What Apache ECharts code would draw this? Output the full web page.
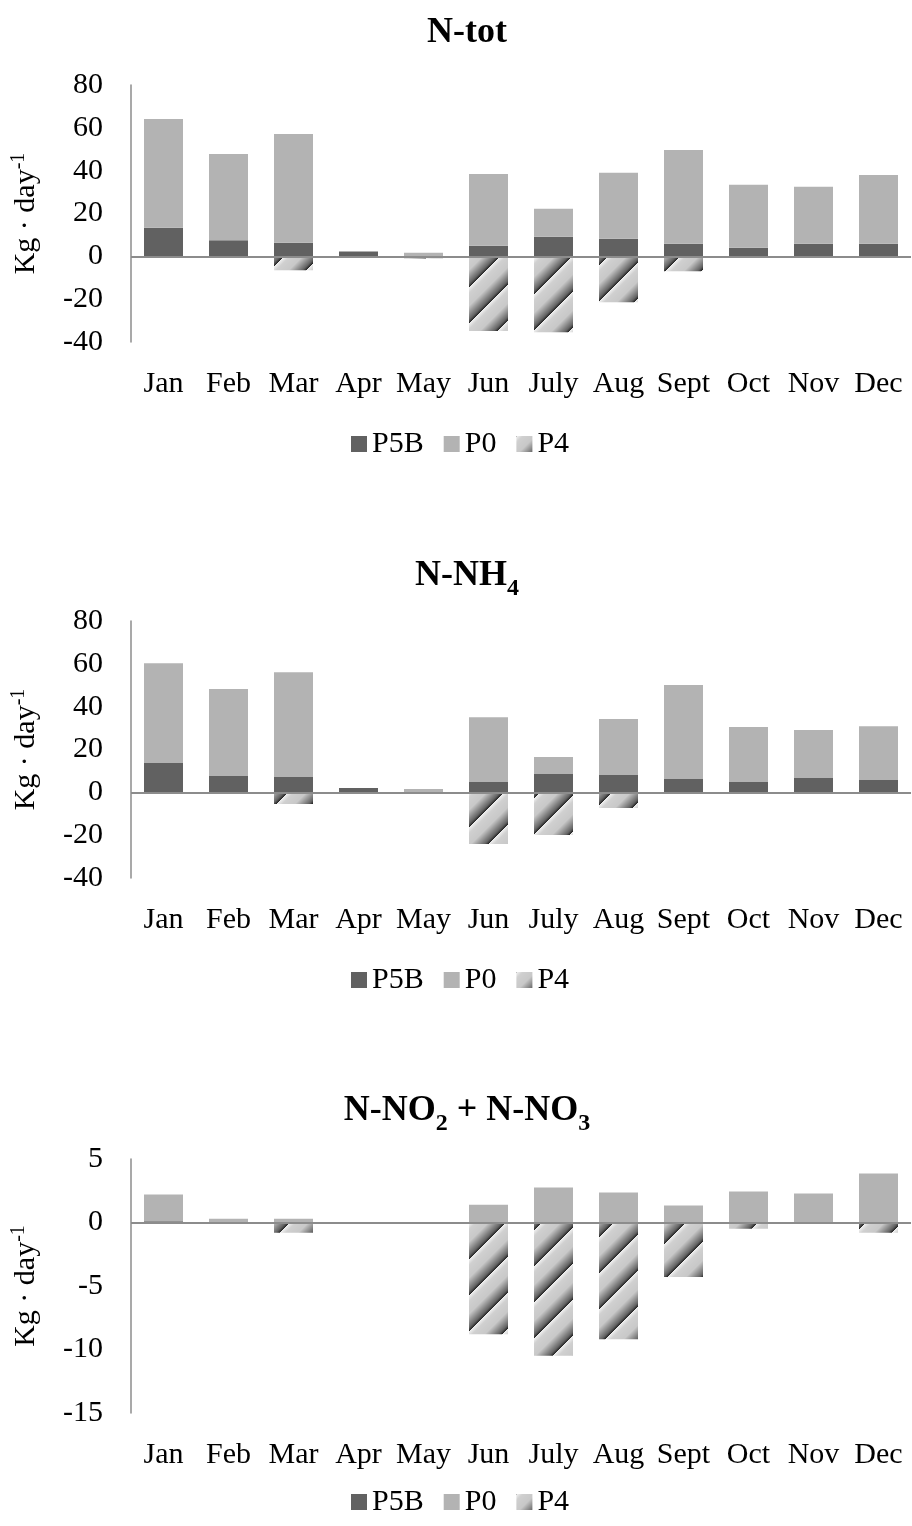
<!DOCTYPE html>
<html>
<head>
<meta charset="utf-8">
<script src="https://cdn.jsdelivr.net/npm/echarts@6/dist/echarts.min.js"></script>
<style>
html,body{margin:0;padding:0;background:#fff;}
#c{width:912px;height:1526px;}
</style>
</head>
<body>
<div id="c"></div>
<script>
// ---- data ----
var months = ['Jan','Feb','Mar','Apr','May','Jun','July','Aug','Sept','Oct','Nov','Dec'];

// N-tot
var ntotP5B = [13.4, 7.5, 6.4, 2.2, 0, 5.0, 9.2, 8.2, 5.9, 4.0, 5.9, 5.9];
var ntotP0  = [50.7, 40.3, 50.7, 0, 1.7, 33.5, 13.0, 30.8, 43.8, 29.4, 26.6, 32.1];
var ntotP4  = [0, 0, -6.5, 0, -1.0, -34.9, -35.4, -21.4, -7.0, -0.8, 0, -0.8];
var ntotTicks = [-40, -20, 0, 20, 40, 60, 80];

// N-NH4
var nh4P5B = [13.7, 7.6, 7.2, 2.0, 0, 4.8, 8.6, 8.1, 6.2, 4.8, 6.7, 5.8];
var nh4P0  = [46.6, 40.6, 48.9, 0, 1.6, 30.3, 7.9, 26.1, 43.9, 25.7, 22.4, 25.1];
var nh4P4  = [0, 0, -5.4, 0, -0.8, -24.1, -19.9, -7.3, 0, 0, 0, 0];
var nh4Ticks = [-40, -20, 0, 20, 40, 60, 80];

// N-NO2 + N-NO3
var noxP5B = [0.1, 0, 0, -0.05, 0, 0, 0, 0, 0, 0, 0, 0];
var noxP0  = [2.1, 0.3, 0.3, 0, 0, 1.4, 2.75, 2.36, 1.34, 2.44, 2.28, 3.85];
var noxP4  = [0, 0, -0.8, 0, -0.1, -8.8, -10.5, -9.2, -4.3, -0.5, 0, -0.8];
var noxTicks = [-15, -10, -5, 0, 5];

var seriesNames = ['P5B', 'P0', 'P4'];

// ---- styling ----
var FONT = '"Liberation Serif","Times New Roman",serif';
var C_P5B = '#616161';
var C_P0 = '#b3b3b3';
var C_AXIS = '#8c8c8c';

function makeHatch() {
  var P = 36;
  var c = document.createElement('canvas');
  c.width = P; c.height = P;
  var ctx = c.getContext('2d');
  var img = ctx.createImageData(P, P);
  for (var y = 0; y < P; y++) {
    for (var x = 0; x < P; x++) {
      var v = ((x + y) % P) / P;
      var g;
      if (v < 0.15) g = 238 - (v / 0.15) * 30;
      else if (v < 0.5) g = 208 - ((v - 0.15) / 0.35) * 8;
      else if (v < 0.88) g = 200 - ((v - 0.5) / 0.38) * 100;
      else g = 100 - ((v - 0.88) / 0.12) * 75;
      var i = (y * P + x) * 4;
      img.data[i] = g; img.data[i + 1] = g; img.data[i + 2] = g; img.data[i + 3] = 255;
    }
  }
  ctx.putImageData(img, 0, 0);
  return c;
}
var hatch = { image: makeHatch(), repeat: 'repeat' };

var panels = [
  { title: '{b|N-tot}', p5b: ntotP5B, p0: ntotP0, p4: ntotP4, ticks: ntotTicks,
    titleTop: 6, gridTop: 85, gridH: 257, legendTop: 424 },
  { title: '{b|N-NH}{s|4}', p5b: nh4P5B, p0: nh4P0, p4: nh4P4, ticks: nh4Ticks,
    titleTop: 549, gridTop: 621, gridH: 257, legendTop: 960 },
  { title: '{b|N-NO}{s|2}{b| + N-NO}{s|3}', p5b: noxP5B, p0: noxP0, p4: noxP4, ticks: noxTicks,
    titleTop: 1084, gridTop: 1159, gridH: 254, legendTop: 1482 }
];

var option = {
  animation: false,
  backgroundColor: '#fff',
  title: [], grid: [], xAxis: [], yAxis: [], legend: [], series: []
};

panels.forEach(function (p, k) {
  option.title.push({
    text: p.title, left: 462, top: p.titleTop, textAlign: 'center',
    textStyle: {
      rich: {
        b: { fontFamily: FONT, fontSize: 36, fontWeight: 'bold', color: '#000', lineHeight: 44 },
        s: { fontFamily: FONT, fontSize: 24, fontWeight: 'bold', color: '#000', lineHeight: 24, padding: [26, 0, 0, 0] }
      }
    }
  });
  option.grid.push({ left: 131, right: 1, top: p.gridTop, height: p.gridH, containLabel: false });
  option.xAxis.push({
    type: 'category', gridIndex: k, data: months,
    axisLine: { show: false }, axisTick: { show: false },
    axisLabel: { color: '#000', fontFamily: FONT, fontSize: 30, margin: 27, interval: 0 }
  });
  var tmin = p.ticks[0], tmax = p.ticks[p.ticks.length - 1];
  option.yAxis.push({
    type: 'value', gridIndex: k, min: tmin, max: tmax, interval: p.ticks[1] - p.ticks[0],
    splitLine: { show: false }, axisTick: { show: false },
    axisLine: { show: true, lineStyle: { color: C_AXIS, width: 1.5 } },
    axisLabel: { color: '#000', fontFamily: FONT, fontSize: 30, margin: 28 },
    name: '{n|Kg · day}{p|-1}', nameLocation: 'middle', nameRotate: 90, nameGap: 88,
    nameTextStyle: {
      rich: {
        n: { fontFamily: FONT, fontSize: 30, color: '#000', lineHeight: 34 },
        p: { fontFamily: FONT, fontSize: 20, color: '#000', lineHeight: 20, padding: [0, 0, 14, 0] }
      }
    }
  });
  option.legend.push({
    data: seriesNames, left: 346, top: p.legendTop, orient: 'horizontal',
    icon: 'rect', itemWidth: 16, itemHeight: 16, itemGap: 20,
    textStyle: { color: '#000', fontFamily: FONT, fontSize: 30 },
    selectedMode: false
  });
  var stack = 's' + k;
  option.series.push({
    name: 'P5B', type: 'bar', xAxisIndex: k, yAxisIndex: k, stack: stack, data: p.p5b,
    barWidth: '60%', itemStyle: { color: C_P5B },
    markLine: {
      silent: true, symbol: 'none', label: { show: false },
      lineStyle: { color: C_AXIS, width: 2, type: 'solid' },
      data: [{ yAxis: 0 }]
    },
    z: 2
  });
  option.series.push({
    name: 'P0', type: 'bar', xAxisIndex: k, yAxisIndex: k, stack: stack, data: p.p0,
    barWidth: '60%', itemStyle: { color: C_P0 }, z: 2
  });
  option.series.push({
    name: 'P4', type: 'bar', xAxisIndex: k, yAxisIndex: k, stack: stack, data: p.p4,
    barWidth: '60%', itemStyle: { color: hatch }, z: 2
  });
});

var chart = echarts.init(document.getElementById('c'), null, { renderer: 'canvas' });
chart.setOption(option);
</script>
</body>
</html>
